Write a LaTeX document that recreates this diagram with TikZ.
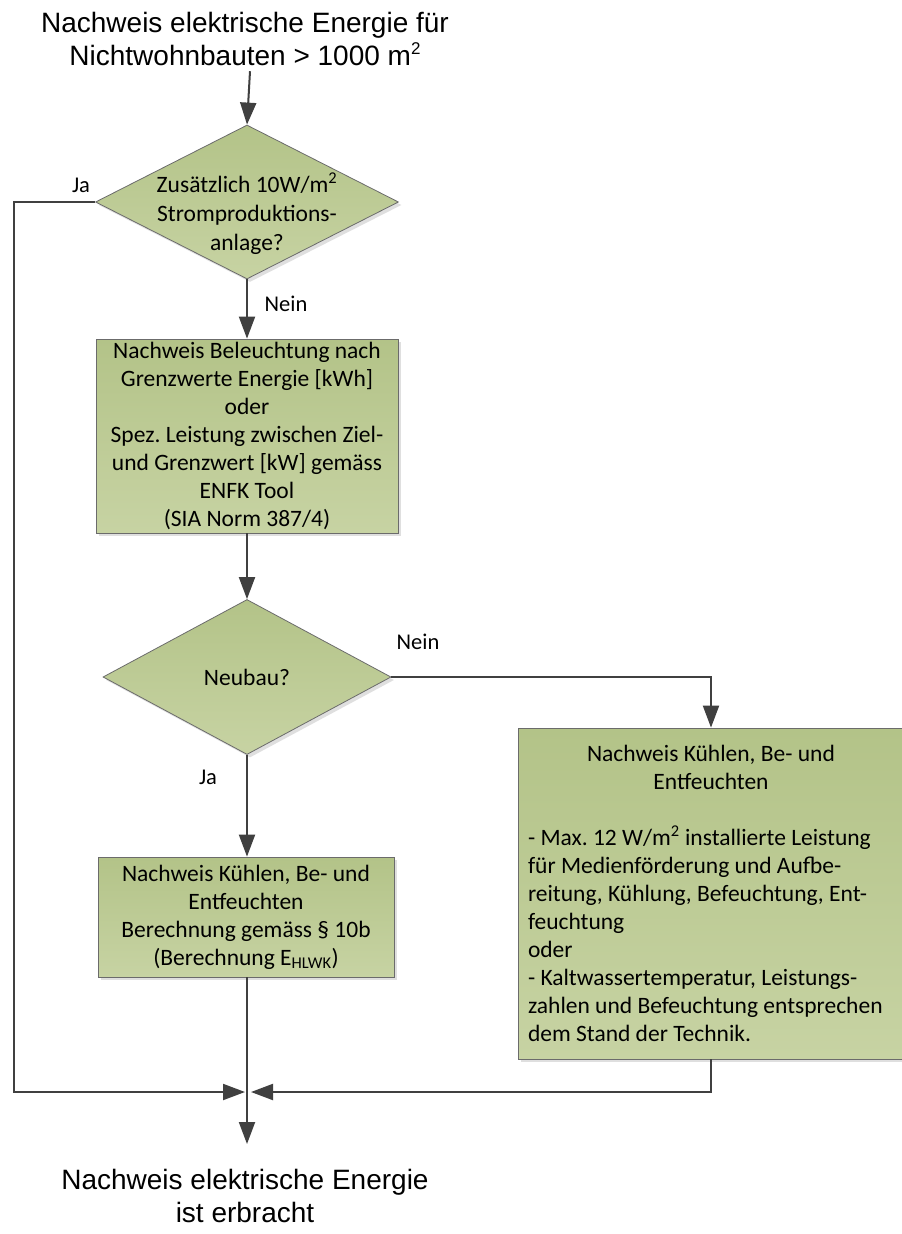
\documentclass[tikz,border=0pt]{standalone}
\usepackage{fontspec}
\setmainfont{Liberation Sans}
\newfontfamily\calfont{Carlito}
\usetikzlibrary{shapes.geometric,arrows.meta,shadows}
\definecolor{boxtop}{HTML}{B3C388}
\definecolor{boxbot}{HTML}{C7D3A3}
\definecolor{linecol}{HTML}{404040}
\definecolor{edgecol}{HTML}{6B6B6B}
\frenchspacing
\begin{document}
\begin{tikzpicture}[x=1pt,y=-1pt,
  arr/.style={draw=linecol, line width=2pt, -{Triangle[length=22pt,width=16pt]}},
  shaded/.style={draw=edgecol, line width=0.8pt, top color=boxtop, bottom color=boxbot,
    drop shadow={shadow xshift=3pt, shadow yshift=-3pt, opacity=0.25}},
  procbox/.style={rectangle, shaded, font=\calfont\fontsize{23.5}{28}\selectfont, align=center, inner sep=0pt},
  decision/.style={diamond, shaded, font=\calfont\fontsize{23.5}{29}\selectfont, inner sep=0pt},
  dtext/.style={font=\calfont\fontsize{23.5}{29}\selectfont, align=center, inner sep=0pt},
  lbl/.style={font=\calfont\fontsize{22.5}{26}\selectfont, inner sep=0pt},
  big/.style={font=\fontsize{28}{33.5}\selectfont, align=center, inner sep=0pt}]
\useasboundingbox[fill=white] (0,0) rectangle (902,1234);

% texts at top and bottom
\node[big] (title) at (245,39) {Nachweis elektrische Energie für\\Nichtwohnbauten > 1000 m\raisebox{11pt}{\fontsize{17}{17}\selectfont 2}};
\node[big] (result) at (245,1196) {Nachweis elektrische Energie\\ist erbracht};

% decision 1
\node[decision, minimum width=303pt, minimum height=154pt] (d1) at (247,202) {};
\node[dtext] (d1t) at (247,214) {Zusätzlich 10W/m\textsuperscript{2}\\Stromproduktions-\\anlage?};

% box 1
\node[procbox, minimum width=302pt, minimum height=194pt] (b1) at (247,436)
  {Nachweis Beleuchtung nach\\Grenzwerte Energie [kWh]\\oder\\Spez. Leistung zwischen Ziel-\\und Grenzwert [kW] gemäss\\ENFK Tool\\(SIA Norm 387/4)};

% decision 2
\node[decision, minimum width=288pt, minimum height=155pt] (d2) at (247,677) {Neubau?};

% box 2
\node[procbox, minimum width=296pt, minimum height=120pt] (b2) at (246,917)
  {Nachweis Kühlen, Be- und\\Entfeuchten\\Berechnung gemäss § 10b\\(Berechnung E\textsubscript{HLWK})};

% box 3
\node[procbox, align=flush left, minimum width=386pt, minimum height=331pt, text width=366pt] (b3) at (711,893.5)
  {{\centering Nachweis Kühlen, Be- und\\Entfeuchten\par}\vspace{\baselineskip}\noindent
   - Max. 12 W/m\textsuperscript{2} installierte Leistung\\
   für Medienförderung und Aufbe-\\
   reitung, Kühlung, Befeuchtung, Ent-\\
   feuchtung\\
   oder\\
   - Kaltwassertemperatur, Leistungs-\\
   zahlen und Befeuchtung entsprechen\\
   dem Stand der Technik.};

% labels
\node[lbl] (ja1) at (81,185) {Ja};
\node[lbl] (nein1) at (286,304) {Nein};
\node[lbl] (nein2) at (418,642) {Nein};
\node[lbl] (ja2) at (208,777) {Ja};

% helper coordinates
\coordinate (m) at (247,1092);
\coordinate (endc) at (247,1144);

% connectors
\draw[arr] ([xshift=5pt,yshift=-5pt]title.south) -- (d1.north);
\draw[arr] (d1.south) -- (b1.north);
\draw[arr] (b1.south) -- (d2.north);
\draw[arr] (d2.south) -- (b2.north -| d2.south);
\draw[arr] (d2.east) -| (b3.north);
\draw[arr] (b2.south -| m) -- (endc);
\draw[arr] (d1.west) -| ([xshift=-233pt]m) -- ([xshift=-2pt]m);
\draw[arr] (b3.south) |- ([xshift=4pt]m);
\end{tikzpicture}
\end{document}
